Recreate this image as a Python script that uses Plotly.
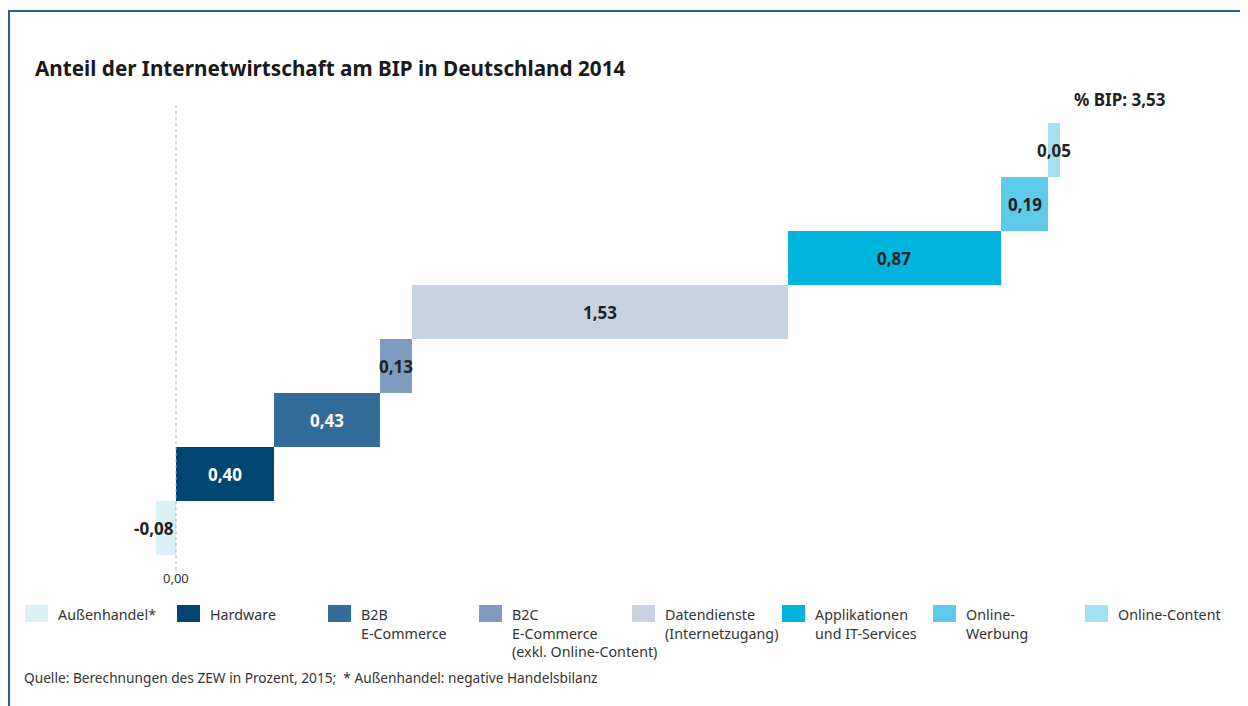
import plotly.graph_objects as go
import numpy as np

# data (% of GDP)
categories = ["Außenhandel*", "Hardware", "B2B<br>E-Commerce",
              "B2C<br>E-Commerce<br>(exkl. Online-Content)",
              "Datendienste<br>(Internetzugang)", "Applikationen<br>und IT-Services",
              "Online-<br>Werbung", "Online-Content"]
values = [-0.08, 0.40, 0.43, 0.13, 1.53, 0.87, 0.19, 0.05]
labels = ["-0,08", "0,40", "0,43", "0,13", "1,53", "0,87", "0,19", "0,05"]
colors = ["#dcf0f7", "#004673", "#336b99", "#7f9bbf", "#c8d2e3", "#00b5dd", "#5ccae8", "#a6dff0"]
label_colors = ["#222222", "#ffffff", "#ffffff", "#222222", "#222222", "#222222", "#222222", "#222222"]
total_label = "% BIP: 3,53"

# page has an 8px body margin, so the figure is a bit smaller and shifted
OFF = 8
W, H = 1248 - OFF, 706 - OFF
FONT = "Noto Sans"

# waterfall layout: negative trade balance drawn left of zero, rest stacked from zero
pos = np.array(values[1:])
bases = [0.0] + list(np.concatenate([[0.0], np.cumsum(pos)[:-1]]))
levels = list(range(len(values)))

fig = go.Figure()
fig.add_trace(go.Bar(
    x=values, base=bases, y=levels, orientation="h", width=1.0,
    marker=dict(color=colors, line=dict(width=0)),
    hoverinfo="skip", showlegend=False,
))

# value labels
for i, (v, b, lab, lc) in enumerate(zip(values, bases, labels, label_colors)):
    if v < 0:
        fig.add_annotation(x=b, y=i, text="<b>%s</b>" % lab, showarrow=False,
                           xanchor="right", yanchor="middle",
                           font=dict(size=17, color=lc, family=FONT))
    else:
        fig.add_annotation(x=b + v / 2, y=i, text="<b>%s</b>" % lab, showarrow=False,
                           xanchor="center", yanchor="middle",
                           font=dict(size=17, color=lc, family=FONT))

# zero reference line + label
fig.add_shape(type="line", x0=0, x1=0, y0=-0.78, y1=7.83, xref="x", yref="y",
              line=dict(color="#b0b0b0", width=1, dash="dot"))
fig.add_annotation(x=0, y=-0.93, text="0,00", showarrow=False, xanchor="center", yanchor="middle",
                   font=dict(size=13, color="#333333", family=FONT))


def px(xp):
    # reference page pixel -> paper fraction
    return (xp - OFF) / W


def py(yp):
    return 1 - (yp - OFF) / H


# total
fig.add_annotation(x=px(1120), y=py(100), xref="paper", yref="paper", text="<b>%s</b>" % total_label,
                   showarrow=False, xanchor="center", yanchor="middle",
                   font=dict(size=17, color="#222222", family=FONT))

# title
fig.add_annotation(x=px(33), y=py(68), xref="paper", yref="paper", xanchor="left", yanchor="middle",
                   text="<b>Anteil der Internetwirtschaft am BIP in Deutschland 2014</b>",
                   showarrow=False, font=dict(size=20.7, color="#1a1a1a", family=FONT))

# legend (drawn manually)
legend_x = [25, 177, 328, 479, 632, 782, 933, 1085]
for i, (name, c) in enumerate(zip(categories, colors)):
    x0 = legend_x[i]
    fig.add_shape(type="rect", xref="paper", yref="paper",
                  x0=px(x0), x1=px(x0 + 23), y0=py(622), y1=py(605),
                  fillcolor=c, line=dict(width=0))
    fig.add_annotation(x=px(x0 + 31), y=py(603), xref="paper", yref="paper",
                       xanchor="left", yanchor="top", align="left", text=name,
                       showarrow=False, font=dict(size=14.3, color="#333333", family=FONT))

# source
fig.add_annotation(x=px(22), y=py(677), xref="paper", yref="paper", xanchor="left", yanchor="middle",
                   text="Quelle: Berechnungen des ZEW in Prozent, 2015;  * Außenhandel: negative Handelsbilanz",
                   showarrow=False, font=dict(size=13.7, color="#333333", family=FONT))

# frame lines (top and left)
fig.add_shape(type="line", xref="paper", yref="paper", x0=0, x1=1, y0=py(11), y1=py(11),
              line=dict(color="#2c5d8c", width=2))
fig.add_shape(type="line", xref="paper", yref="paper", x0=1 / W, x1=1 / W, y0=py(11), y1=0,
              line=dict(color="#2c5d8c", width=2))

# scales: 245.6 px per unit, zero at 176 px; 54 px per level, level 0 centred at 528 px
x_per = 245.6
y_per = 54.0
x0_px = 176 - OFF
y0_px = 528 - OFF
fig.update_xaxes(range=[-x0_px / x_per, (W - x0_px) / x_per], visible=False, fixedrange=True)
fig.update_yaxes(range=[(y0_px - H) / y_per, y0_px / y_per], visible=False, fixedrange=True)

fig.update_layout(
    width=W, height=H,
    margin=dict(l=0, r=0, t=0, b=0),
    paper_bgcolor="white", plot_bgcolor="white",
    bargap=0, font=dict(family=FONT),
)

fig.write_html("out.html")
